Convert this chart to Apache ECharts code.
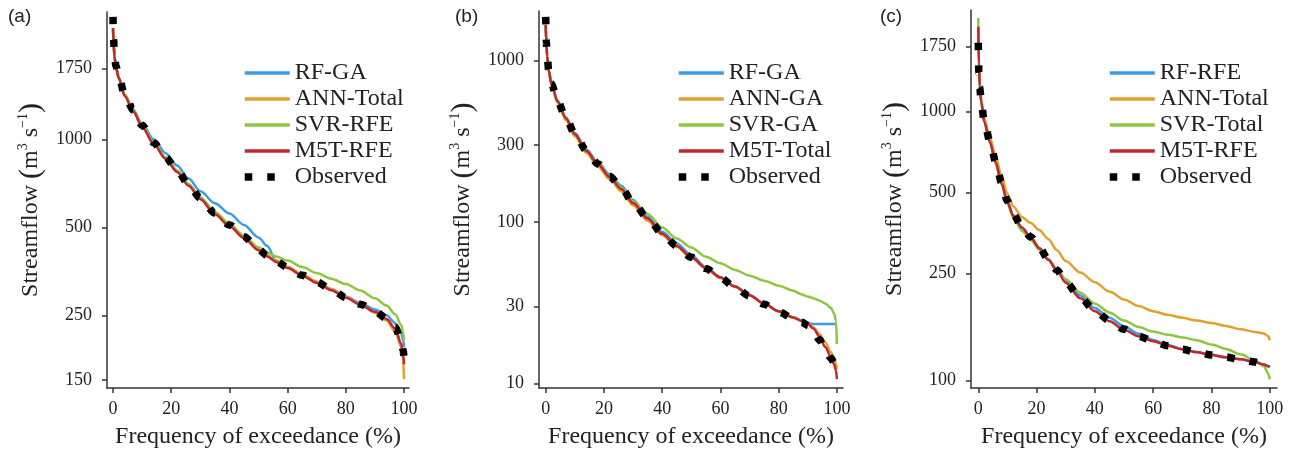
<!DOCTYPE html>
<html>
<head>
<meta charset="utf-8">
<script src="https://cdn.jsdelivr.net/npm/echarts@6/dist/echarts.min.js"></script>
<style>
html, body { margin: 0; padding: 0; background: #fff; }
#chart { width: 1290px; height: 454px; }
</style>
</head>
<body>
<div id="chart"></div>
<script>
// exceedance frequency (%) sampled per panel
var xA = [0, 0.2, 0.5, 1, 2, 4, 7, 10, 14, 18, 22, 26, 30, 35, 40, 45, 50, 53, 56, 60, 65, 70, 75, 80, 85, 90, 94, 97, 99, 99.7, 100];
var obsA = [2630, 2200, 1950, 1790, 1640, 1425, 1260, 1120, 975, 870, 785, 700, 630, 560, 510, 465, 421, 400, 383, 365, 343, 325, 307, 288, 273, 258, 244, 227, 205, 190, 177];
var rfA  = [2410, 2150, 1930, 1775, 1630, 1425, 1265, 1130, 1000, 900, 815, 735, 665, 605, 558, 510, 462, 432, 386, 366, 344, 326, 308, 290, 275, 262, 250, 235, 218, 205, 195];
var annA = [2380, 2120, 1920, 1760, 1620, 1420, 1255, 1115, 970, 865, 780, 700, 630, 560, 510, 462, 420, 402, 385, 366, 345, 326, 307, 289, 272, 255, 240, 220, 195, 175, 151];
var svrA = [2400, 2140, 1930, 1770, 1625, 1420, 1255, 1115, 975, 870, 785, 705, 635, 565, 515, 468, 428, 410, 398, 385, 366, 349, 334, 320, 304, 286, 270, 252, 232, 218, 205];
var m5tA = [2410, 2150, 1930, 1770, 1620, 1410, 1245, 1105, 965, 860, 775, 695, 625, 555, 505, 460, 418, 398, 381, 363, 342, 323, 305, 287, 272, 257, 243, 225, 200, 184, 170];

var xB = [0, 0.2, 0.5, 1, 2, 4, 7, 10, 14, 18, 22, 26, 30, 35, 40, 45, 50, 55, 60, 65, 70, 75, 80, 85, 88, 90, 92, 94, 96, 98, 99, 99.7, 100];
var obsB = [1870, 1320, 1080, 880, 720, 565, 440, 352, 278, 229, 192, 162, 132, 106, 85, 71, 60.5, 51.5, 45, 39.5, 34.8, 30.9, 27.7, 25.3, 23.9, 22.8, 21, 18.6, 16.1, 14.3, 13.4, 12.8, 12.3];
var rfB  = [1660, 1300, 1075, 880, 720, 568, 445, 356, 282, 233, 197, 168, 137, 108, 87, 73.5, 62.5, 52.5, 45.5, 40, 35.3, 31.3, 28.1, 25.7, 24.5, 23.7, 23.3, 23.3, 23.3, 23.3, 23.3, 23.3, 23.3];
var annB = [1650, 1290, 1060, 865, 705, 550, 428, 340, 268, 220, 184, 155, 127, 102, 83, 70, 60, 51.5, 45, 39.6, 35, 31, 27.9, 25.6, 24.4, 23.5, 22.2, 20.3, 18, 15.6, 14.2, 13.2, 12.3];
var svrB = [1660, 1300, 1070, 875, 715, 560, 438, 350, 277, 228, 192, 163, 134, 112, 92.5, 79, 69.5, 61, 55.5, 50.5, 46.5, 43.2, 40.3, 37.5, 35.5, 34.5, 33.6, 32.6, 31.2, 29.3, 27.2, 24.4, 17.5];
var m5tB = [1670, 1300, 1070, 875, 715, 562, 438, 350, 276, 227, 190, 160, 131, 105, 84.5, 71, 60.5, 51.8, 45.3, 39.8, 35.2, 31.2, 28, 25.6, 24.3, 23.3, 21.8, 19.5, 16.8, 14.5, 13.2, 12, 10.6];

var xC = [0, 0.2, 0.5, 1, 2, 4, 6, 8, 10, 12, 15, 18, 21, 24, 27, 30, 35, 40, 45, 50, 55, 60, 65, 70, 75, 80, 85, 90, 95, 98, 99.5, 100];
var obsC = [1806, 1400, 1230, 1090, 925, 775, 650, 545, 465, 415, 372, 342, 312, 282, 257, 232, 203, 182, 167, 155, 146, 140, 134.5, 130.5, 127.2, 124.3, 121.9, 119.8, 117, 114.5, 113, 112];
var rfC  = [2050, 1490, 1245, 1090, 920, 772, 648, 542, 462, 412, 371, 341, 311, 283, 259, 235, 207, 186, 171, 159, 149, 141.5, 135.5, 131, 127.5, 124.5, 122, 119.8, 117, 114.5, 113, 112];
var annC = [1960, 1480, 1260, 1110, 950, 800, 680, 575, 495, 445, 405, 385, 362, 336, 305, 278, 252, 232, 214, 200, 189, 181, 175.5, 171, 167, 163.5, 159.5, 155, 151.5, 149.5, 146, 141];
var svrC = [2230, 1550, 1270, 1100, 925, 770, 640, 535, 455, 405, 360, 333, 306, 282, 260, 238, 212, 193, 179, 167, 158, 152, 148, 144.5, 141, 136, 131, 125, 118.5, 113, 106, 101];
var m5tC = [2070, 1500, 1250, 1090, 920, 770, 645, 540, 460, 410, 370, 340, 310, 281, 256, 231, 202, 181, 166, 154.5, 146, 140, 134.5, 130.5, 127.2, 124.3, 121.9, 119.8, 117, 114.5, 113, 112];

var xTicks = [0, 20, 40, 60, 80, 100];
var yTicksA = [150, 250, 500, 1000, 1750];
var yTicksB = [10, 30, 100, 300, 1000];
var yTicksC = [100, 250, 500, 1000, 1750];

var namesA = ['RF-GA', 'ANN-Total', 'SVR-RFE', 'M5T-RFE', 'Observed'];
var namesB = ['RF-GA', 'ANN-GA', 'SVR-GA', 'M5T-Total', 'Observed'];
var namesC = ['RF-RFE', 'ANN-Total', 'SVR-Total', 'M5T-RFE', 'Observed'];

var font = 'Liberation Serif';
var ink = '#222';
var lineColors = ['#3a9be6', '#e2a12c', '#8dc63f', '#c1272d'];

function pairs(xs, ys) {
  return xs.map(function (x, i) { return [x, ys[i]]; });
}

var panels = [
  { label: '(a)', labelX: 8, legendX: 241,
    grid: { left: 107, top: 12, width: 302, height: 379 },
    xMin: -2.06, xMax: 101.7, yMin: 141, yMax: 2734, yTicks: yTicksA,
    x: xA, names: namesA, values: [rfA, annA, svrA, m5tA, obsA] },
  { label: '(b)', labelX: 455, legendX: 675,
    grid: { left: 539, top: 11, width: 304, height: 378 },
    xMin: -2.3, xMax: 102.1, yMin: 9.35, yMax: 2035, yTicks: yTicksB,
    x: xB, names: namesB, values: [rfB, annB, svrB, m5tB, obsB] },
  { label: '(c)', labelX: 880, legendX: 1106,
    grid: { left: 971, top: 10, width: 306, height: 381 },
    xMin: -2.5, xMax: 102.5, yMin: 93.7, yMax: 2390, yTicks: yTicksC,
    x: xC, names: namesC, values: [rfC, annC, svrC, m5tC, obsC] }
];

var grids = [], xAxes = [], yAxes = [], series = [], legends = [], texts = [];

panels.forEach(function (p, i) {
  grids.push(p.grid);
  xAxes.push({
    type: 'value', gridIndex: i, min: p.xMin, max: p.xMax,
    name: 'Frequency of exceedance (%)', nameLocation: 'middle', nameGap: 37,
    nameTextStyle: { fontFamily: font, fontSize: 24, color: ink },
    axisLine: { show: true, onZero: false, lineStyle: { color: '#333', width: 1.5 } },
    axisTick: { show: true, length: 5, customValues: xTicks, lineStyle: { color: '#333', width: 1.5 } },
    axisLabel: { customValues: xTicks, margin: 12, fontFamily: font, fontSize: 18, color: ink },
    splitLine: { show: false }
  });
  yAxes.push({
    type: 'log', logBase: 10, gridIndex: i, min: p.yMin, max: p.yMax,
    name: 'Streamflow {par|(}m{sup|3} s{sup|\u22121}{par|)}', nameLocation: 'middle', nameGap: 61,
    nameTextStyle: {
      fontFamily: font, fontSize: 24, color: ink,
      rich: {
        sup: { fontFamily: font, fontSize: 14, color: ink, verticalAlign: 'top' },
        par: { fontFamily: font, fontSize: 30, color: ink }
      }
    },
    axisLine: { show: true, onZero: false, lineStyle: { color: '#333', width: 1.5 } },
    axisTick: { show: true, length: 5, customValues: p.yTicks, lineStyle: { color: '#333', width: 1.5 } },
    axisLabel: {
      customValues: p.yTicks, margin: 15, fontFamily: font, fontSize: 18, color: ink,
      formatter: function (v) { return String(Math.round(v)); }
    },
    splitLine: { show: false }
  });

  p.names.forEach(function (name, k) {
    var isObs = k === 4;
    series.push({
      type: 'line', name: name, xAxisIndex: i, yAxisIndex: i,
      data: pairs(p.x, p.values[k]),
      symbol: 'none', showSymbol: false,
      smooth: 0.3, smoothMonotone: 'x',
      z: isObs ? 10 : 2 + k,
      itemStyle: { color: isObs ? '#000' : lineColors[k] },
      lineStyle: isObs
        ? { color: '#000', width: 7.5, type: [7.5, 15], cap: 'butt' }
        : { color: lineColors[k], width: 2.5 }
    });
  });

  legends.push({
    orient: 'vertical', left: p.legendX, top: 61, padding: 0,
    itemWidth: 45, itemHeight: 10, itemGap: 2,
    selectedMode: false,
    itemStyle: { opacity: 0 },
    lineStyle: { width: 'inherit' },
    textStyle: { fontFamily: font, fontSize: 24, color: ink },
    data: p.names.map(function (name, k) {
      return k === 4
        ? { name: name, lineStyle: { width: 7.5 } }
        : { name: name, lineStyle: { width: 3.5 } };
    })
  });

  texts.push({
    type: 'text', left: p.labelX, top: 7,
    style: { text: p.label, fontFamily: 'Liberation Sans', fontSize: 19, fill: ink }
  });
});

var chart = echarts.init(document.getElementById('chart'), null, { renderer: 'canvas' });
chart.setOption({
  animation: false,
  backgroundColor: '#fff',
  grid: grids,
  xAxis: xAxes,
  yAxis: yAxes,
  legend: legends,
  graphic: texts,
  series: series
});
</script>
</body>
</html>
